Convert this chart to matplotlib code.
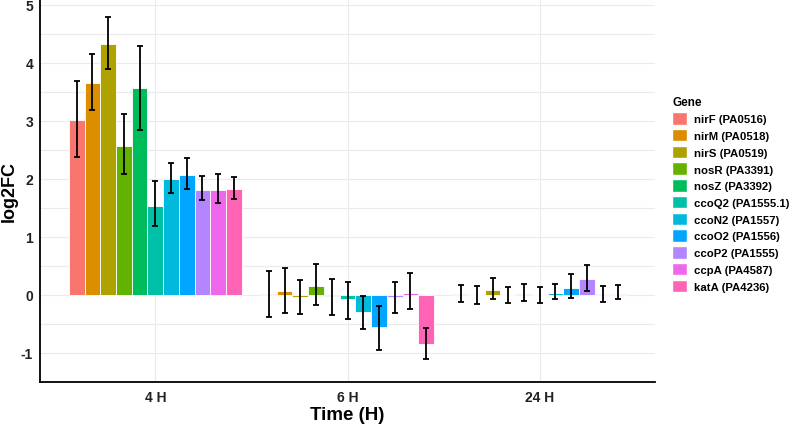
import matplotlib as mpl
mpl.use('Agg')
import matplotlib.pyplot as plt
from matplotlib.patches import Patch
import numpy as np

plt.rcParams['font.family'] = ['Liberation Sans', 'DejaVu Sans']
plt.rcParams['axes.unicode_minus'] = False

times = ['4 H', '6 H', '24 H']
genes = ['nirF (PA0516)', 'nirM (PA0518)', 'nirS (PA0519)', 'nosR (PA3391)',
         'nosZ (PA3392)', 'ccoQ2 (PA1555.1)', 'ccoN2 (PA1557)', 'ccoO2 (PA1556)',
         'ccoP2 (PA1555)', 'ccpA (PA4587)', 'katA (PA4236)']
colors = ['#F8766D', '#DB8E00', '#AEA200', '#64B200', '#00BD5C', '#00C1A7',
          '#00BADE', '#00A6FF', '#B385FF', '#EF67EB', '#FF63B6']

# mean log2FC per gene, one list per time point
fc_4h = [3.01, 3.65, 4.33, 2.57, 3.56, 1.54, 2.00, 2.07, 1.81, 1.81, 1.83]
fc_6h = [0.01, 0.06, -0.03, 0.15, -0.01, -0.07, -0.29, -0.56, -0.03, 0.03, -0.84]
fc_24h = [0.01, 0.0, 0.08, 0.0, 0.02, 0.0, 0.04, 0.12, 0.27, 0.01, 0.02]

# error bar centre and half-width
ctr_4h = [3.03, 3.67, 4.34, 2.60, 3.57, 1.57, 2.02, 2.09, 1.84, 1.83, 1.84]
err_4h = [0.65, 0.49, 0.45, 0.51, 0.72, 0.39, 0.26, 0.27, 0.21, 0.25, 0.19]
ctr_6h = [0.02, 0.08, -0.04, 0.18, -0.03, -0.10, -0.30, -0.57, -0.04, 0.06, -0.84]
err_6h = [0.40, 0.39, 0.29, 0.35, 0.31, 0.32, 0.29, 0.38, 0.27, 0.31, 0.27]
ctr_24h = [0.03, 0.0, 0.11, 0.0, 0.04, 0.0, 0.06, 0.155, 0.295, 0.02, 0.05]
err_24h = [0.145, 0.15, 0.18, 0.14, 0.15, 0.14, 0.125, 0.21, 0.22, 0.14, 0.12]

fc = np.array([fc_4h, fc_6h, fc_24h])
ctr = np.array([ctr_4h, ctr_6h, ctr_24h])
err = np.array([err_4h, err_6h, err_24h])

fig = plt.figure(figsize=(7.9, 4.27), dpi=100)
ax = fig.add_axes([40/790, 44/427, 615/790, 383/427])

n = len(genes)
w = 0.9 / n
x = np.arange(len(times))
for i in range(n):
    xi = x - 0.45 + w/2 + i*w
    ax.bar(xi, fc[:, i], width=w, color=colors[i], edgecolor='white',
           linewidth=0.6, zorder=2)
    ax.errorbar(xi, ctr[:, i], yerr=err[:, i], fmt='none', ecolor='black',
                elinewidth=1.3, capsize=2, capthick=1.3, zorder=3)

ax.set_xlim(-0.6, 2.6)
ax.set_ylim(-1.4, 5.1)
ax.set_yticks(range(-1, 6))
ax.set_yticks(np.arange(-1.5, 5.5, 1), minor=True)
ax.set_xticks(x)
ax.set_xticklabels(times)
ax.grid(True, which='both', axis='y', color='#ebebeb', linewidth=0.8, zorder=0)
ax.grid(True, which='major', axis='x', color='#ebebeb', linewidth=0.8, zorder=0)
ax.set_axisbelow(True)
for s in ['top', 'right']:
    ax.spines[s].set_visible(False)
for s in ['left', 'bottom']:
    ax.spines[s].set_linewidth(1.3)
ax.tick_params(axis='both', which='both', length=0, labelsize=10,
               labelcolor='#222222')
ax.tick_params(axis='x', pad=6)
ax.tick_params(axis='y', pad=5)
for lab in ax.get_xticklabels() + ax.get_yticklabels():
    lab.set_fontweight('bold')
ax.set_xlabel('Time (H)', fontsize=13.5, fontweight='bold', va='center')
ax.set_ylabel('log2FC', fontsize=13, fontweight='bold', va='center')
ax.yaxis.set_label_coords(-0.05, 0.5)
ax.xaxis.set_label_coords(0.5, -0.0836)

handles = [Patch(facecolor=c, edgecolor='white') for c in colors]
leg = fig.legend(handles, genes, loc='upper left', bbox_to_anchor=(0.838, 0.797),
                 frameon=False, title='Gene', fontsize=8.2,
                 title_fontproperties={'size': 8.5, 'weight': 'bold'},
                 handlelength=1.3, handleheight=1.3, labelspacing=0.38,
                 handletextpad=0.6, alignment='left')
for t in leg.get_texts():
    t.set_fontweight('bold')

fig.savefig('out.png', dpi=100)
